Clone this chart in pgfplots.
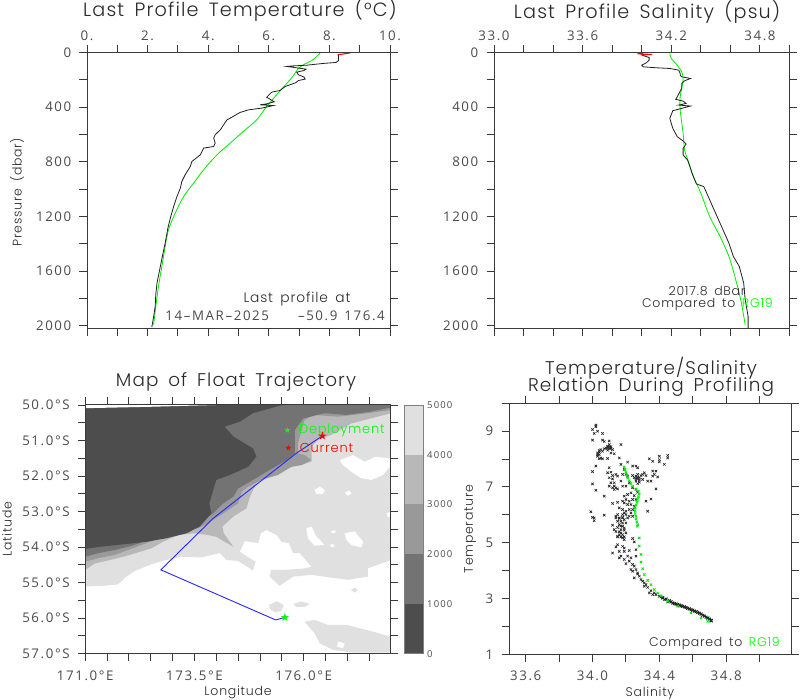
\documentclass[border=0pt]{standalone}
\usepackage{fontspec}
\usepackage{pgfplots}
\pgfplotsset{compat=1.18}
\setmainfont{Poppins}[UprightFont=* Light,LetterSpace=6,WordSpace=1.6]
\newfontfamily\numfam{Open Sans}[LetterSpace=12,WordSpace=1.4]
\definecolor{axc}{HTML}{3A3A3A}
\definecolor{txc}{HTML}{2A2A2A}
\definecolor{nmc}{HTML}{4A4A4A}
\definecolor{fgreen}{RGB}{0,235,0}
% depth bands, shallow to deep
\definecolor{d1}{HTML}{4D4D4D}
\definecolor{d2}{HTML}{737373}
\definecolor{d3}{HTML}{999999}
\definecolor{d4}{HTML}{B8B8B8}
\definecolor{d5}{HTML}{E0E0E0}
\newcommand{\ttlf}{\fontsize{19.2}{21}\selectfont\color{txc}}
\newcommand{\ttls}{\fontsize{18.4}{21}\selectfont\color{txc}}
\newcommand{\tickf}{\numfam\fontsize{13.3}{15}\selectfont\color{nmc}}
\newcommand{\smallf}{\fontsize{12.5}{15}\selectfont\color{txc}}
\newcommand{\labf}{\fontsize{13}{15}\selectfont\color{txc}}
\pgfdeclareplotmark{fstar}{%
  \pgfpathmoveto{\pgfpointpolar{90}{\pgfplotmarksize}}%
  \pgfpathlineto{\pgfpointpolar{234}{\pgfplotmarksize}}%
  \pgfpathlineto{\pgfpointpolar{18}{\pgfplotmarksize}}%
  \pgfpathlineto{\pgfpointpolar{162}{\pgfplotmarksize}}%
  \pgfpathlineto{\pgfpointpolar{306}{\pgfplotmarksize}}%
  \pgfpathclose\pgfusepathqfill}
\pgfplotsset{
  base/.style={
    scale only axis,
    anchor=south west,
    tick align=outside,
    major tick length=7.5pt,
    minor tick length=7.5pt,
    tick style={color=axc,line width=.95pt},
    minor tick style={color=axc,line width=.95pt},
    axis line style={color=axc,line width=1pt},
    tick label style={font=\tickf,inner sep=4pt},
    y tick label style={xshift=-4pt},
    axis on top,
  },
  low/.style={x tick label style={yshift=-5pt}},
  prof/.style={
    base,
    y dir=reverse,
    ymin=0, ymax=2024,
    height=276.5pt,
    ytick={0,400,800,1200,1600,2000},
    yticklabels={0,400,800,1200,1600,2000},
    minor ytick={200,600,1000,1400,1800},
    xticklabel pos=top,
  },
  blk/.style={no marks,line width=.8pt,color=black!88},
  grn/.style={no marks,smooth,line width=.8pt,color=fgreen},
  rd/.style={no marks,line width=1.1pt,color=red},
  band/.style={fill=#1,draw=none,no marks,line width=0pt},
}
\begin{document}
\begin{tikzpicture}
\useasboundingbox (0,0) rectangle (800pt,700pt);

% ---- temperature profile
\begin{axis}[prof,at={(87pt,371pt)},width=303pt,
  xmin=0,xmax=10,
  xtick={0,2,4,6,8,10},xticklabels={0.,2.,4.,6.,8.,10.},
  minor xtick={1,3,5,7,9}]
\addplot[grn] coordinates {(7.69,5)(7.58,29)(7.42,59)(7.14,90)(6.96,120)(6.87,151)(6.70,200)(6.48,254)(6.21,322)(5.93,395)(5.60,493)(5.16,578)(4.73,663)(4.29,749)(3.85,858)(3.52,956)(3.19,1054)(2.91,1176)(2.69,1298)(2.58,1420)(2.47,1566)(2.36,1712)(2.27,1859)(2.20,1993)};
\addplot[blk] coordinates {(8.30,17)(8.30,59)(8.22,73)(7.80,80)(7.25,93)(6.81,98)(6.59,102)(6.92,112)(7.23,122)(7.16,132)(6.92,144)(6.98,163)(7.16,180)(7.20,195)(6.98,205)(6.90,220)(6.54,249)(6.37,278)(6.10,290)(5.93,327)(6.07,346)(6.18,361)(5.93,376)(5.71,383)(6.15,388)(5.88,402)(5.77,407)(5.33,420)(5.05,439)(4.73,480)(4.62,493)(4.51,529)(4.40,566)(4.23,602)(4.18,627)(4.23,663)(4.18,688)(3.85,700)(3.74,749)(3.46,798)(3.41,834)(3.24,895)(3.13,944)(3.08,993)(2.97,1054)(2.86,1127)(2.75,1212)(2.67,1285)(2.58,1395)(2.51,1468)(2.42,1566)(2.31,1688)(2.27,1773)(2.25,1859)(2.20,1932)(2.14,2010)};
\addplot[rd] coordinates {(8.70,2)(8.57,7)(8.27,17)};
\end{axis}

% ---- salinity profile
\begin{axis}[prof,at={(494pt,371pt)},width=295.5pt,
  xmin=33,xmax=35,
  xtick={33,33.6,34.2,34.8},xticklabels={33.0,33.6,34.2,34.8},
  minor xtick={33.2,33.4,33.8,34.0,34.4,34.6,35.0}]
\addplot[grn] coordinates {(34.19,7)(34.20,44)(34.24,93)(34.27,141)(34.28,202)(34.26,324)(34.26,421)(34.28,592)(34.29,714)(34.32,811)(34.35,909)(34.40,1030)(34.46,1201)(34.53,1347)(34.59,1493)(34.63,1639)(34.67,1810)(34.70,1993)};
\addplot[blk] coordinates {(34.00,19)(34.05,37)(34.05,56)(34.03,76)(34.00,93)(34.01,105)(34.10,112)(34.19,117)(34.25,129)(34.26,153)(34.26,166)(34.27,178)(34.33,190)(34.29,207)(34.27,227)(34.27,263)(34.24,324)(34.23,343)(34.28,356)(34.30,373)(34.25,385)(34.33,392)(34.26,412)(34.21,426)(34.19,482)(34.20,519)(34.21,555)(34.24,616)(34.28,648)(34.30,670)(34.28,702)(34.28,750)(34.31,787)(34.33,848)(34.34,884)(34.37,962)(34.42,982)(34.45,1055)(34.50,1177)(34.54,1274)(34.59,1396)(34.62,1493)(34.66,1566)(34.69,1688)(34.70,1810)(34.72,1932)(34.72,2017)};
\addplot[rd] coordinates {(34.01,7)(33.97,10)(34.02,12)(34.07,15)(34.01,17)(34.00,19)};
\end{axis}

% ---- trajectory map, bands painted from deep to shallow over white
\begin{axis}[base,low,at={(85.3pt,46.3pt)},width=305.7pt,height=248.7pt,
  xmin=171,xmax=178,ymin=-57,ymax=-50,
  xtick={171,173.5,176},xticklabels={171.0°E,173.5°E,176.0°E},
  minor xtick={171.5,172,172.5,173,174,174.5,175,175.5,176.5,177,177.5},
  ytick={-57,-56,-55,-54,-53,-52,-51,-50},
  yticklabels={57.0°S,56.0°S,55.0°S,54.0°S,53.0°S,52.0°S,51.0°S,50.0°S},
  minor ytick={-56.5,-55.5,-54.5,-53.5,-52.5,-51.5,-50.5}]
% 4000-5000
\addplot[band=d5] coordinates {(171,-55.11)(171.41,-55.09)(171.75,-55.05)(171.91,-54.86)(172.14,-54.67)(172.52,-54.48)(172.76,-54.39)(173.20,-54.27)(173.66,-54.29)(174.08,-54.17)(174.23,-54.36)(174.50,-54.39)(174.84,-54.66)(174.90,-54.41)(174.71,-54.27)(174.54,-54.13)(174.65,-53.83)(174.96,-53.89)(175.02,-53.61)(175.15,-53.52)(175.38,-53.66)(175.49,-53.85)(175.66,-53.89)(175.76,-54.17)(175.91,-54.17)(176.18,-54.55)(176.02,-54.60)(175.57,-54.64)(175.26,-54.64)(175.22,-54.83)(175.45,-55.09)(175.76,-54.83)(176.18,-54.78)(176.63,-54.86)(177.02,-54.92)(177.47,-54.83)(177.47,-54.60)(177.78,-54.46)(178,-54.36)(178,-50)(171,-50)};
\addplot[band=d5] coordinates {(175.21,-55.63)(175.38,-55.52)(175.54,-55.63)(175.49,-55.80)(175.34,-55.84)(175.22,-55.73)};
\addplot[band=d5] coordinates {(175.76,-55.60)(175.95,-55.53)(176.14,-55.60)(176.02,-55.68)(175.83,-55.68)};
\addplot[band=d5] coordinates {(177.08,-55.21)(177.17,-55.14)(177.24,-55.21)(177.17,-55.28)};
\addplot[band=d5] coordinates {(176.02,-56.10)(176.25,-56.05)(176.56,-56.19)(176.98,-56.19)(177.44,-56.33)(178,-56.52)(178,-56.97)(177.13,-56.97)(176.67,-56.89)(176.37,-56.71)(176.25,-56.43)};
% deeper than 5000, holes in the band above
\addplot[band=white] coordinates {(176.83,-51.55)(177.13,-51.41)(177.40,-51.60)(177.63,-51.46)(178,-51.50)(178,-51.69)(177.82,-51.97)(177.55,-52.11)(177.32,-52.06)(177.09,-51.88)(176.90,-51.69)};
\addplot[band=white] coordinates {(176.25,-52.39)(176.37,-52.30)(176.48,-52.39)(176.44,-52.51)(176.29,-52.50)};
\addplot[band=white] coordinates {(176.95,-52.46)(177.05,-52.41)(177.10,-52.50)(177.0,-52.55)};
\addplot[band=white] coordinates {(177.90,-53.05)(178,-53.0)(178,-53.15)(177.92,-53.15)};
\addplot[band=white] coordinates {(176.06,-53.47)(176.18,-53.42)(176.29,-53.70)(176.48,-53.94)(176.25,-53.96)(176.10,-53.75)};
\addplot[band=white] coordinates {(176.94,-53.61)(177.17,-53.56)(177.36,-53.85)(177.32,-54.01)(177.09,-53.94)(176.98,-53.80)};
\addplot[band=white] coordinates {(176.63,-53.55)(176.71,-53.52)(176.73,-53.59)(176.66,-53.61)};
\addplot[band=white] coordinates {(176.60,-53.94)(176.67,-53.91)(176.71,-53.99)(176.62,-54.0)};
\addplot[band=white] coordinates {(176.79,-56.66)(176.94,-56.71)(176.90,-56.85)(176.76,-56.80)};
% 3000-4000
\addplot[band=d4] coordinates {(171,-54.64)(171.22,-54.46)(171.75,-54.31)(172.02,-54.22)(172.52,-54.03)(172.78,-53.85)(173.13,-53.66)(173.51,-53.61)(173.81,-53.66)(174.0,-53.71)(174.19,-53.85)(174.39,-53.99)(174.17,-53.61)(174.14,-53.42)(174.39,-53.14)(174.69,-52.91)(174.77,-52.58)(174.92,-52.20)(175.22,-51.92)(175.61,-51.74)(175.95,-51.69)(176.18,-51.59)(176.18,-51.17)(176.33,-50.98)(176.63,-50.84)(177.09,-50.52)(178,-50.23)(178,-50)(171,-50)};
% 2000-3000
\addplot[band=d3] coordinates {(171,-54.41)(171.30,-54.31)(171.68,-54.22)(171.98,-54.08)(172.29,-53.94)(172.59,-53.80)(172.90,-53.61)(173.28,-53.55)(173.58,-53.47)(173.74,-53.38)(174.16,-53.05)(174.50,-52.77)(174.58,-52.44)(174.73,-52.30)(175.03,-52.11)(175.41,-51.97)(175.72,-51.74)(175.95,-51.69)(176.18,-51.55)(176.02,-51.41)(175.87,-51.36)(175.87,-51.08)(176.02,-50.42)(176.25,-50.28)(176.79,-50.33)(177.47,-50.23)(178,-50.14)(178,-50)(171,-50)};
% 1000-2000
\addplot[band=d2] coordinates {(171,-54.27)(171.30,-54.17)(171.68,-54.08)(171.98,-53.99)(172.25,-53.89)(172.52,-53.71)(172.82,-53.52)(173.20,-53.47)(173.47,-53.38)(173.93,-53.05)(174.16,-52.77)(174.39,-52.58)(174.50,-52.35)(174.77,-52.16)(175.15,-51.88)(175.61,-51.55)(175.80,-51.36)(175.80,-50.70)(175.99,-50.38)(176.48,-50.23)(176.98,-50.28)(177.51,-50.19)(178,-50.07)(178,-50)(171,-50)};
% 0-1000
\addplot[band=d1] coordinates {(171,-54.05)(171.34,-53.99)(171.95,-53.91)(172.40,-53.85)(172.86,-53.75)(173.32,-53.61)(173.62,-53.42)(173.89,-53.05)(173.84,-52.77)(173.93,-52.39)(174.0,-52.11)(174.31,-51.97)(174.73,-51.74)(174.92,-51.45)(174.84,-51.22)(174.39,-50.89)(174.19,-50.61)(174.54,-50.47)(174.84,-50.23)(175.45,-50.02)(175.6,-50)(171,-50)};
% no data along the top edge
\addplot[band=white] coordinates {(171,-50)(171,-50.09)(172.5,-50.05)(174,-50)};
% track
\addplot[no marks,line width=.9pt,color=blue!85!white] coordinates {(175.57,-55.98)(175.36,-56.05)(172.73,-54.64)(173.93,-53.19)(175.83,-51.36)(176.43,-50.87)};
\addplot[only marks,mark=fstar,mark size=4.5pt,color=green] coordinates {(175.57,-55.98)};
\addplot[only marks,mark=fstar,mark size=4.5pt,color=red] coordinates {(176.43,-50.87)};
\addplot[only marks,mark=fstar,mark size=3.2pt,color=green] coordinates {(175.63,-50.71)};
\addplot[only marks,mark=fstar,mark size=3.2pt,color=red] coordinates {(175.65,-51.21)};
\node[anchor=west,inner sep=0pt,font=\labf,text=green] at (axis cs:175.89,-50.71) {Deployment};
\node[anchor=west,inner sep=0pt,font=\labf,text=red] at (axis cs:175.91,-51.21) {Current};
\end{axis}

% ---- colour bar
\begin{axis}[base,at={(404.3pt,46.3pt)},width=18.7pt,height=248.7pt,
  xmin=0,xmax=1,ymin=0,ymax=5000,
  xtick=\empty,major tick length=0pt,
  ytick={0,1000,2000,3000,4000,5000},
  yticklabels={0,1000,2000,3000,4000,5000},
  yticklabel pos=right,
  y tick label style={xshift=4pt,font=\numfam\fontsize{9.5}{11}\selectfont\color{nmc}},
  axis line style={color=black!50,line width=.8pt}]
\addplot[band=d1] coordinates {(0,0)(1,0)(1,1000)(0,1000)};
\addplot[band=d2] coordinates {(0,1000)(1,1000)(1,2000)(0,2000)};
\addplot[band=d3] coordinates {(0,2000)(1,2000)(1,3000)(0,3000)};
\addplot[band=d4] coordinates {(0,3000)(1,3000)(1,4000)(0,4000)};
\addplot[band=d5] coordinates {(0,4000)(1,4000)(1,5000)(0,5000)};
\end{axis}

% ---- T/S scatter
\begin{axis}[base,low,at={(509pt,45.7pt)},width=282.3pt,height=251pt,
  xmin=33.5,xmax=35.19,ymin=1,ymax=10,
  xtick={33.6,34,34.4,34.8},xticklabels={33.6,34.0,34.4,34.8},
  minor xtick={33.8,34.2,34.6,35.0},
  ytick={1,3,5,7,9},yticklabels={1,3,5,7,9},
  minor ytick={2,4,6,8,10}]
\addplot[only marks,mark=x,mark size=1.7pt,mark options={line width=.65pt},color=black!85] coordinates {
(34.02,9.22)(34.02,9.16)(34.00,9.06)(34.03,9.00)(34.01,8.92)(34.06,8.92)(34.00,8.68)(34.06,8.68)(34.07,8.63)(34.10,8.65)
(34.10,8.52)(34.09,8.46)(34.11,8.44)(34.08,8.40)(34.10,8.37)(34.12,8.34)(34.09,8.32)(34.07,8.37)(34.06,8.28)(34.05,8.34)
(34.04,8.31)(34.03,8.22)(34.04,8.16)(34.03,8.10)(34.05,8.04)(34.04,8.01)(34.06,8.01)(34.09,8.02)(34.11,8.22)(34.13,8.19)
(34.10,8.45)(34.09,8.40)(34.11,8.38)(34.04,8.25)(34.03,8.15)
(34.17,8.52)(34.16,8.04)(34.17,7.81)(34.21,7.89)(34.24,7.75)(34.26,7.75)(34.27,7.69)(34.02,7.75)(34.10,7.69)(34.00,7.55)
(34.19,7.63)(34.34,8.01)(34.36,7.92)(34.40,8.10)(34.40,7.98)(34.40,7.90)(34.43,7.81)(34.45,8.13)(34.45,8.04)
(34.26,7.39)(34.27,7.45)(34.29,7.41)(34.30,7.45)(34.31,7.51)(34.25,7.33)(34.27,7.29)(34.28,7.33)(34.30,7.27)(34.26,7.21)
(34.28,7.17)(34.27,7.12)(34.24,7.41)(34.32,7.41)(34.33,7.21)(34.36,7.57)(34.38,7.57)(34.37,7.45)(34.36,7.39)(34.39,7.36)
(34.35,7.21)(34.38,6.93)(34.27,7.35)(34.28,7.25)(34.26,7.30)
(34.09,7.51)(34.11,7.53)(34.12,7.41)(34.14,7.45)(34.10,7.33)(34.12,7.29)(34.15,7.39)(34.18,7.45)(34.20,7.45)(34.11,7.15)
(34.13,7.15)(34.17,7.21)(34.10,7.03)(34.12,6.97)(34.13,6.91)(34.14,6.97)(34.15,6.93)(34.13,7.03)(34.18,7.03)(34.20,7.03)
(34.00,7.11)(34.02,6.88)(34.07,6.67)(34.21,7.39)(34.22,7.15)(34.24,6.97)(34.26,6.91)(34.27,6.81)
(34.19,6.67)(34.20,6.55)(34.21,6.73)(34.23,6.79)(34.25,6.69)(34.26,6.55)(34.24,6.55)(34.22,6.49)(34.19,6.43)(34.18,6.49)
(34.15,6.45)(34.12,6.41)(34.21,6.37)(34.23,6.37)(34.25,6.31)(34.35,6.57)(34.32,6.49)(34.33,6.13)(33.99,6.11)(34.07,5.99)
(34.01,5.89)(34.16,6.25)(34.18,6.19)(34.20,6.13)(34.22,6.19)(34.24,6.19)(34.18,6.01)(34.20,6.01)(34.22,5.95)(34.24,5.95)
(34.15,6.01)(34.14,5.89)(34.16,5.89)(34.18,5.89)(34.21,5.89)(34.19,6.07)(34.23,6.07)
(34.00,5.91)(34.01,5.79)(34.14,5.95)(34.16,5.87)(34.18,5.91)(34.19,5.83)(34.17,5.77)(34.15,5.77)(34.18,5.71)(34.20,5.71)
(34.16,5.65)(34.12,5.63)(34.18,5.59)(34.19,5.53)(34.13,5.47)(34.17,5.47)(34.16,5.39)(34.18,5.29)(34.15,5.21)(34.17,5.21)
(34.19,5.21)(34.15,5.23)(34.19,5.11)(34.24,5.15)(34.25,5.03)(34.18,4.87)(34.19,4.81)(34.15,4.93)(34.14,4.85)(34.22,4.72)
(34.17,5.60)(34.15,5.55)(34.19,5.45)(34.17,5.35)(34.16,5.28)(34.20,5.35)(34.14,5.40)(34.18,5.18)
(34.26,4.75)(34.12,4.63)(34.16,4.69)(34.19,4.69)(34.17,4.52)(34.16,4.46)(34.19,4.40)(34.21,4.52)(34.23,4.46)(34.22,4.34)
(34.20,4.25)(34.26,4.52)(34.24,4.22)(34.25,4.16)(34.23,4.04)(34.24,3.98)(34.26,4.04)(34.25,3.74)(34.27,3.92)(34.28,3.80)
(34.29,3.68)(34.30,3.62)(34.31,3.56)(34.31,3.44)(34.33,3.40)(34.35,3.28)(34.34,3.20)(34.36,3.14)(34.38,3.14)(34.40,3.08)
(34.42,3.04)(34.43,2.96)(34.45,2.88)(34.27,3.88)(34.32,3.50)(34.37,3.20)(34.41,3.06)};
% dense deep end of the curve
\addplot[only marks,mark=x,mark size=2pt,mark options={line width=.95pt},color=black!85] coordinates {
(34.42,3.02)(34.44,2.98)(34.46,2.92)(34.47,2.88)(34.48,2.84)(34.49,2.82)(34.50,2.80)(34.51,2.78)(34.52,2.76)(34.53,2.74)
(34.54,2.72)(34.55,2.70)(34.56,2.68)(34.57,2.65)(34.58,2.63)(34.59,2.60)(34.60,2.58)(34.61,2.55)(34.62,2.53)(34.63,2.50)
(34.64,2.47)(34.65,2.44)(34.66,2.40)(34.67,2.37)(34.68,2.33)(34.69,2.30)(34.70,2.26)(34.71,2.22)(34.71,2.20)};
\addplot[only marks,mark=x,mark size=1.6pt,mark options={line width=.8pt},color=fgreen] coordinates {
(34.19,7.72)(34.195,7.62)(34.20,7.52)(34.205,7.42)(34.21,7.32)(34.22,7.22)(34.23,7.12)(34.24,7.02)(34.26,6.93)(34.275,6.85)
(34.28,6.75)(34.275,6.65)(34.27,6.55)(34.265,6.45)(34.26,6.35)(34.255,6.25)(34.255,6.15)(34.255,6.05)(34.26,5.95)(34.26,5.85)
(34.265,5.75)(34.27,5.65)(34.268,5.59)(34.28,5.17)(34.28,4.88)(34.29,4.58)(34.29,4.31)(34.30,4.07)(34.31,3.86)(34.33,3.65)
(34.35,3.50)(34.37,3.32)(34.39,3.20)(34.41,3.10)(34.45,2.90)(34.51,2.72)(34.59,2.48)(34.65,2.30)(34.69,2.18)};
\end{axis}

% ---- titles and labels, placed on the page
\begin{scope}[every node/.style={inner sep=0pt}]
\node[font=\ttlf] at (240pt,690pt) {Last Profile Temperature (°C)};
\node[font=\ttlf] at (647pt,688pt) {Last Profile Salinity (psu)};
\node[font=\ttls] at (236pt,318pt) {Map of Float Trajectory};
\node[font=\ttls] at (651pt,332pt) {Temperature/Salinity};
\node[font=\ttls] at (651pt,313pt) {Relation During Profiling};
\node[font=\smallf,rotate=90] at (17pt,508pt) {Pressure (dbar)};
\node[font=\smallf,rotate=90] at (7pt,171pt) {Latitude};
\node[font=\smallf,rotate=90] at (470pt,171pt) {Temperature};
\node[font=\smallf] at (238pt,8pt) {Longitude};
\node[font=\smallf] at (650pt,7pt) {Salinity};
\node[font=\fontsize{13.8}{15}\selectfont\color{txc}] at (297pt,401pt) {Last profile at};
\node[font=\tickf,anchor=east] at (385pt,384pt) {14–MAR–2025\hspace{29pt}–50.9 176.4};
\node[font=\smallf] at (707pt,409pt) {2017.8 dBar};
\node[font=\smallf,anchor=east] at (773pt,395.5pt) {Compared to \textcolor{green}{RG19}};
\node[font=\smallf,anchor=east] at (780pt,57pt) {Compared to \textcolor{green}{RG19}};
\end{scope}
\end{tikzpicture}
\end{document}
